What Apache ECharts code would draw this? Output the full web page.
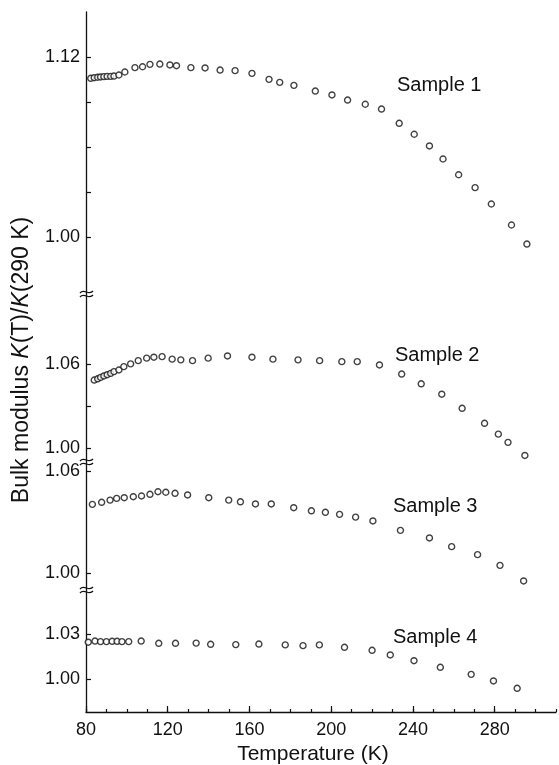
<!DOCTYPE html>
<html>
<head>
	<meta charset="utf-8" />
	<script src="https://cdn.jsdelivr.net/npm/echarts@6/dist/echarts.min.js"></script>
	<title>Bulk modulus</title>
	<style>
		html, body { margin: 0; padding: 0; background: #fff; }
		#c { width: 559px; height: 765px; }
	</style>
</head>
<body>
	<div id="c"></div>
	<script>
		// temperature (K) and K(T)/K(290 K) for each sample
		var temps1 = [82.3,84.0,85.7,87.1,88.7,90.3,92.0,93.6,96.0,98.9,103.8,107.5,111.1,115.9,120.8,124.0,131.0,137.9,145.2,152.5,160.7,169.0,174.2,181.1,191.5,199.6,207.2,215.8,223.7,232.3,239.6,247.0,253.6,261.2,269.2,277.1,286.9,294.4];
		var vals1 = [1.1058,1.1062,1.1065,1.1067,1.1069,1.1071,1.1071,1.1073,1.1080,1.1100,1.1129,1.1135,1.1151,1.1153,1.1147,1.1142,1.1129,1.1127,1.1113,1.1109,1.1091,1.1051,1.1031,1.1011,1.0973,1.0947,1.0913,1.0885,1.0853,1.0758,1.0685,1.0607,1.0520,1.0415,1.0329,1.0220,1.0080,0.9953];

		var temps2 = [84.0,85.7,87.1,88.7,90.3,92.0,93.6,96.0,98.4,101.7,105.4,109.5,113.0,117.0,121.9,126.1,131.8,139.4,148.8,160.7,170.9,183.1,193.6,204.4,211.9,222.7,233.5,243.0,253.0,262.9,273.8,280.5,285.2,293.4];
		var vals2 = [1.0488,1.0497,1.0507,1.0517,1.0526,1.0536,1.0548,1.0560,1.0584,1.0604,1.0627,1.0645,1.0652,1.0656,1.0638,1.0633,1.0627,1.0645,1.0661,1.0652,1.0638,1.0633,1.0627,1.0620,1.0620,1.0596,1.0531,1.0461,1.0386,1.0285,1.0177,1.0099,1.0040,0.9946];

		var temps3 = [83.1,87.6,91.7,94.9,98.6,103.0,107.0,111.1,115.0,118.8,123.3,129.4,139.7,149.4,155.1,162.4,170.1,181.0,189.6,196.4,203.3,211.1,219.5,232.9,247.0,257.8,270.4,281.3,292.8];
		var vals3 = [1.0404,1.0416,1.0429,1.0439,1.0443,1.0449,1.0453,1.0463,1.0478,1.0475,1.0469,1.0459,1.0443,1.0429,1.0419,1.0406,1.0406,1.0384,1.0366,1.0357,1.0345,1.0329,1.0306,1.0251,1.0206,1.0155,1.0108,1.0045,0.9953];

		var temps4 = [81.1,84.4,87.1,90.0,92.8,95.2,97.6,100.9,107.0,115.6,123.8,133.9,141.0,153.3,164.6,177.5,186.2,194.2,206.5,220.0,228.9,240.5,253.4,268.5,279.4,291.0];
		var vals4 = [1.0245,1.0253,1.0249,1.0249,1.0251,1.0251,1.0249,1.0249,1.0253,1.0238,1.0238,1.0239,1.0231,1.0229,1.0233,1.0227,1.0222,1.0227,1.0211,1.0191,1.0160,1.0122,1.0078,1.0031,0.9987,0.9938];

		var sampleNames = ['Sample 1', 'Sample 2', 'Sample 3', 'Sample 4'];
		var xTickLabels = [80, 120, 160, 200, 240, 280];
		var yTicks = [[1.00, 1.03, 1.06, 1.09, 1.12], [1.00, 1.03, 1.06], [1.00, 1.06], [1.00, 1.03]];
		var yLabels = [[1.00, 1.12], [1.00, 1.06], [1.00, 1.06], [1.00, 1.03]];

		var ink = '#111';
		var font = 'Liberation Sans';

		// panels: pixel top/bottom and the value range they cover
		var panels = [
			{ top: 12,  bottom: 294, min: 0.962,  max: 1.15 },
			{ top: 294, bottom: 462, min: 0.9899, max: 1.1106 },
			{ top: 462, bottom: 590, min: 0.99,   max: 1.0653 },
			{ top: 590, bottom: 712, min: 0.978,  max: 1.0593 }
		];
		var temps = [temps1, temps2, temps3, temps4];
		var vals = [vals1, vals2, vals3, vals4];

		var grids = [], xAxes = [], yAxes = [], series = [];
		panels.forEach(function (p, i) {
			grids.push({ left: 86, width: 474, top: p.top, height: p.bottom - p.top });
			var last = i === panels.length - 1;
			xAxes.push({
				type: 'value', gridIndex: i, min: 80, max: 310, interval: 10,
				show: last,
				axisLine: { lineStyle: { color: ink, width: 1.3 } },
				axisTick: { inside: true, length: 3, lineStyle: { color: ink, width: 1.2 } },
				axisLabel: {
					color: ink, fontSize: 18, fontFamily: font, margin: 9,
					formatter: function (v) { return xTickLabels.indexOf(v) >= 0 ? String(v) : ''; }
				},
				splitLine: { show: false }
			});
			yAxes.push({
				type: 'value', gridIndex: i, min: p.min, max: p.max,
				axisLine: { show: true, lineStyle: { color: ink, width: 1.3 } },
				axisTick: { show: true, inside: true, length: 5, customValues: yTicks[i], lineStyle: { color: ink, width: 1.2 } },
				axisLabel: {
					color: ink, fontSize: 18, fontFamily: font, margin: 6,
					customValues: yLabels[i],
					formatter: function (v) { return v.toFixed(2); }
				},
				splitLine: { show: false }
			});
			var data = temps[i].map(function (t, k) { return [t, vals[i][k]]; });
			series.push({
				type: 'scatter', name: sampleNames[i], xAxisIndex: i, yAxisIndex: i,
				data: data, symbol: 'circle', symbolSize: 6,
				itemStyle: { color: '#fff', borderColor: ink, borderWidth: 1.4 },
				silent: true, animation: false
			});
		});

		// longer major ticks on the temperature axis
		xAxes.push({
			type: 'value', gridIndex: 3, min: 80, max: 310, position: 'bottom',
			axisLine: { show: false },
			axisTick: { inside: true, length: 6, customValues: xTickLabels, lineStyle: { color: ink, width: 1.2 } },
			axisLabel: { show: false },
			splitLine: { show: false }
		});

		// axis break marks
		var graphics = [];
		[294, 462, 590].forEach(function (y) {
			[-2, 2].forEach(function (d) {
				graphics.push({
					type: 'bezierCurve',
					shape: { x1: 80, y1: y + d + 1, x2: 93, y2: y + d - 1, cpx1: 84, cpy1: y + d - 4, cpx2: 89, cpy2: y + d + 4 },
					style: { stroke: ink, lineWidth: 1.3, fill: null }
				});
			});
		});

		var sampleLabelPos = [[397, 85], [395, 355], [393, 506], [393, 637]];
		sampleNames.forEach(function (s, i) {
			graphics.push({
				type: 'text', x: sampleLabelPos[i][0], y: sampleLabelPos[i][1],
				style: { text: s, fill: ink, fontSize: 20, fontFamily: font, textAlign: 'left', textVerticalAlign: 'middle' }
			});
		});

		graphics.push({
			type: 'text', x: 313, y: 754,
			style: { text: 'Temperature (K)', fill: ink, fontSize: 21, fontFamily: font, textAlign: 'center', textVerticalAlign: 'middle' }
		});
		graphics.push({
			type: 'text', x: 22, y: 360, rotation: Math.PI / 2,
			style: {
				text: 'Bulk modulus {i|K}(T)/{i|K}(290 K)',
				fill: ink, fontSize: 23, fontFamily: font, textAlign: 'center', textVerticalAlign: 'middle',
				rich: { i: { fontStyle: 'italic', fontSize: 23, fontFamily: font, fill: ink } }
			}
		});

		var myChart = echarts.init(document.getElementById('c'));
		myChart.setOption({
			backgroundColor: '#fff',
			animation: false,
			grid: grids,
			xAxis: xAxes,
			yAxis: yAxes,
			series: series,
			graphic: graphics
		});
	</script>
</body>
</html>
